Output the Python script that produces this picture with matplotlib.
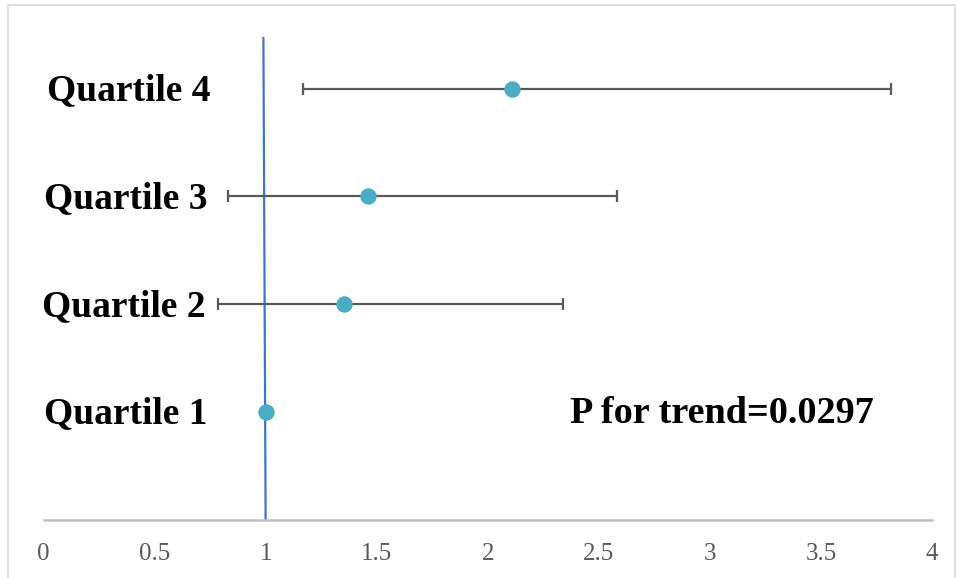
import matplotlib
matplotlib.use("Agg")
import matplotlib.pyplot as plt
from matplotlib.patches import Rectangle

labels = ["Quartile 1", "Quartile 2", "Quartile 3", "Quartile 4"]
rows = [1, 2, 3, 4]
or_vals = [1.0, 1.353, 1.461, 2.109]
ci_low = [1.0, 0.786, 0.831, 1.168]
ci_high = [1.0, 2.339, 2.582, 3.816]
x_ticks = [0, 0.5, 1, 1.5, 2, 2.5, 3, 3.5, 4]
tick_labels = ["0", "0.5", "1", "1.5", "2", "2.5", "3", "3.5", "4"]
trend_text = "P for trend=0.0297"

W, H = 956, 578
fig = plt.figure(figsize=(W / 100, H / 100), dpi=100)
fig.patches.append(Rectangle((8 / W, -0.05), (W - 9) / W, (H - 5) / H + 0.05,
                             transform=fig.transFigure, fill=False,
                             edgecolor="#D9D9D9", linewidth=1.2))

left = 43.5 / W
width = (932 - 43.5) / W
bottom = (H - 519.5) / H
unit = 107.7
height = 4.5 * unit / H
ax = fig.add_axes([left, bottom, width, height])
ax.set_xlim(0, 4)
ax.set_ylim(0, 4.5)
ax.patch.set_alpha(0)

for s in ["top", "right", "left"]:
    ax.spines[s].set_visible(False)
ax.spines["bottom"].set_color("#BFBFBF")
ax.spines["bottom"].set_linewidth(1.8)
ax.set_yticks([])
ax.set_xticks(x_ticks)
ax.set_xticklabels(tick_labels, family="Liberation Serif", fontsize=18, color="#595959")
ax.tick_params(axis="x", length=0, pad=17)

# reference line
ax.plot([0.99, 1.0], [4.47, 0], color="#4472C4", linewidth=1.6, zorder=2)

xerr = [[o - l for o, l in zip(or_vals, ci_low)], [h - o for o, h in zip(or_vals, ci_high)]]
ax.errorbar(or_vals[1:], rows[1:], xerr=[xerr[0][1:], xerr[1][1:]], fmt="none",
            ecolor="#595959", elinewidth=1.6, capsize=4.4, capthick=1.6, zorder=3)
ax.plot(or_vals, rows, "o", color="#4BACC6", markersize=10.8, zorder=4)

label_x = [0.371, 0.360, 0.369, 0.383]
for lx, r, t in zip(label_x, rows, labels):
    ax.text(lx, r - 0.02, t, ha="center", va="center", family="Liberation Serif",
            fontweight="bold", fontsize=27, color="black")

ax.text(3.053, 0.98, trend_text, ha="center", va="center", family="Liberation Serif",
        fontweight="bold", fontsize=27.5, color="black")

fig.savefig("out.png", dpi=100)
